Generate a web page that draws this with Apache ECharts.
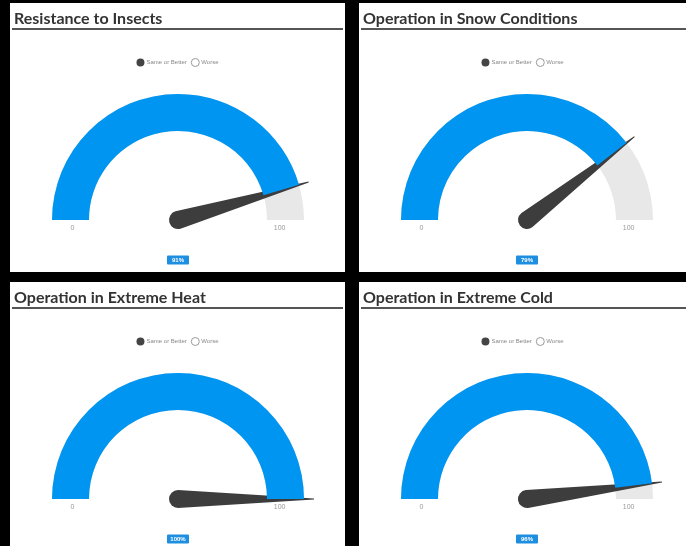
<!DOCTYPE html>
<html>
<head>
<meta charset="utf-8">
<script src="https://cdn.jsdelivr.net/npm/echarts@6/dist/echarts.min.js"></script>
<style>
  body { margin: 0; background: #000; width: 686px; height: 546px; position: relative; overflow: hidden; }
  .panel { position: absolute; background: #fff; }
</style>
</head>
<body>
<div id="p1" class="panel" style="left:10px;top:3px;width:335px;height:269px"></div>
<div id="p2" class="panel" style="left:359px;top:3px;width:327px;height:269px"></div>
<div id="p3" class="panel" style="left:10px;top:282px;width:335px;height:264px"></div>
<div id="p4" class="panel" style="left:359px;top:282px;width:327px;height:264px"></div>
<script>
// 数据
var titles = ['Resistance to Insects', 'Operation in Snow Conditions', 'Operation in Extreme Heat', 'Operation in Extreme Cold'];
var values = [91, 79, 100, 96];
var legendNames = ['Same or Better', 'Worse'];
var gaugeMin = 0;
var gaugeMax = 100;

var ids = ['p1', 'p2', 'p3', 'p4'];

// 指针：圆头锥形
var needle = 'path://M8.5 0 L9.5 0 L18 136 A9 9 0 1 1 0 136 Z';

function getOption(i) {
  var option = {
    animation: false,
    title: {
      text: titles[i],
      left: -1,
      top: 3,
      textStyle: {
        fontFamily: 'Lato',
        fontWeight: 'bold',
        fontSize: 16,
        color: '#333'
      }
    },
    graphic: [{
      type: 'line',
      shape: { x1: 2, y1: 26, x2: 333, y2: 26 },
      style: { stroke: '#555', lineWidth: 2 }
    }],
    legend: {
      data: [
        { name: legendNames[0], icon: 'circle', itemStyle: { color: '#444' } },
        { name: legendNames[1], icon: 'circle', itemStyle: { color: '#fff', borderColor: '#999', borderWidth: 1 } }
      ],
      top: 50,
      left: 'center',
      itemWidth: 8,
      itemHeight: 8,
      itemGap: 4,
      selectedMode: false,
      textStyle: { fontSize: 6, color: '#888', padding: [0, 0, 0, -3] }
    },
    series: [{
      name: legendNames[0],
      type: 'gauge',
      center: [168, 217],
      radius: 126,
      startAngle: 180,
      endAngle: 0,
      min: gaugeMin,
      max: gaugeMax,
      splitNumber: 1,
      axisLine: {
        roundCap: false,
        lineStyle: { width: 37, color: [[1, '#E8E8E8']] }
      },
      progress: {
        show: true,
        width: 37,
        roundCap: false,
        itemStyle: { color: '#0095F0' }
      },
      splitLine: { show: false, length: 0, distance: 0 },
      axisTick: { show: false },
      axisLabel: {
        distance: 18.5,
        align: 'center',
        lineHeight: 16,
        // 空行把刻度文字推到色带下方
        formatter: function (v) { return '\n' + v; },
        fontSize: 7,
        color: '#999'
      },
      pointer: {
        icon: needle,
        width: 18,
        length: 145,
        offsetCenter: [0, 9],
        itemStyle: { color: '#3d3d3d' }
      },
      anchor: { show: false },
      title: { show: false },
      detail: {
        valueAnimation: false,
        formatter: '{value}%',
        offsetCenter: [0, 40],
        width: 16,
        height: 7,
        lineHeight: 7,
        fontSize: 6,
        color: '#fff',
        backgroundColor: '#1E8FE0',
        padding: [1, 3],
        borderRadius: 1
      },
      data: [{ value: values[i], name: legendNames[0] }]
    }, {
      // 只用于图例
      name: legendNames[1],
      type: 'gauge',
      radius: 0,
      axisLine: { show: false },
      splitLine: { show: false },
      axisTick: { show: false },
      axisLabel: { show: false },
      pointer: { show: false },
      anchor: { show: false },
      title: { show: false },
      detail: { show: false },
      data: []
    }]
  };
  return option;
}

for (var i = 0; i < ids.length; i++) {
  var chart = echarts.init(document.getElementById(ids[i]));
  chart.setOption(getOption(i));
}
</script>
</body>
</html>
